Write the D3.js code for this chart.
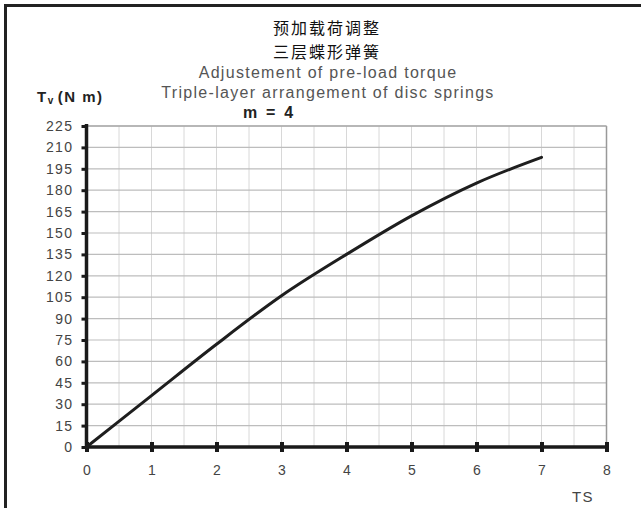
<!DOCTYPE html>
<html>
<head>
<meta charset="utf-8">
<script src="https://cdn.jsdelivr.net/npm/d3@7"></script>
<style>
  html, body { margin: 0; padding: 0; background: #fff; }
  svg { display: block; }
</style>
</head>
<body>
<svg id="chart" width="641" height="508"></svg>
<script>
// Pre-load torque Tv (Nm) versus TS, triple-layer disc spring stack, m = 4
const tsValues = [0, 1, 2, 3, 4, 5, 6, 7];
const torqueValues = [0, 36, 72, 106, 135, 162, 185, 203];
const xTicks = [0, 1, 2, 3, 4, 5, 6, 7, 8];
const yTicks = [0, 15, 30, 45, 60, 75, 90, 105, 120, 135, 150, 165, 180, 195, 210, 225];
const titleLinesZh = ["预加载荷调整", "三层蝶形弹簧"];
const titleLinesEn = ["Adjustement of pre-load torque", "Triple-layer arrangement of disc springs"];

const svg = d3.select("#chart");
const font = "Liberation Sans, Arial, sans-serif";

const x = d3.scaleLinear().domain([0, 8]).range([86.5, 606.5]);
const y = d3.scaleLinear().domain([0, 225]).range([447, 126]);

// outer frame
svg.append("path")
  .attr("d", "M5.5,508 V5.5 H641")
  .attr("fill", "none").attr("stroke", "#222").attr("stroke-width", 3);

// title block
titleLinesZh.forEach((t, i) => {
  svg.append("text").attr("x", 327).attr("y", 34 + i * 23.5)
    .attr("text-anchor", "middle").attr("font-family", "Noto Sans CJK SC, sans-serif")
    .attr("font-size", 16).attr("letter-spacing", 2).attr("fill", "#111").text(t);
});
titleLinesEn.forEach((t, i) => {
  svg.append("text").attr("x", 328).attr("y", 78 + i * 20)
    .attr("text-anchor", "middle").attr("font-family", font)
    .attr("font-size", 16).attr("fill", "#555").attr("letter-spacing", 1.3).text(t);
});
svg.append("text").attr("x", 268).attr("y", 118)
  .attr("text-anchor", "middle").attr("font-family", font)
  .attr("font-size", 16).attr("font-weight", "bold").attr("fill", "#222")
  .attr("xml:space", "preserve").text("m  =  4");

// y axis title Tv (Nm)
const yt = svg.append("text").attr("x", 37).attr("y", 102)
  .attr("font-family", font).attr("font-size", 15).attr("font-weight", "bold")
  .attr("fill", "#222").attr("letter-spacing", 1.5);
yt.append("tspan").text("T");
yt.append("tspan").attr("font-size", 10).attr("dy", 2).text("v");
yt.append("tspan").attr("dy", -2).attr("dx", 3).text("(N m)");

// grid
const g = svg.append("g");
g.selectAll("line.vx").data(d3.range(0.5, 8, 0.5))
  .join("line").attr("class", "vx")
  .attr("x1", d => x(d)).attr("x2", d => x(d))
  .attr("y1", y(225)).attr("y2", y(0))
  .attr("stroke", "#d8d8d8").attr("stroke-width", 1);
g.selectAll("line.hy").data(yTicks.filter(d => d > 0))
  .join("line").attr("class", "hy")
  .attr("x1", x(0)).attr("x2", x(8))
  .attr("y1", d => y(d)).attr("y2", d => y(d))
  .attr("stroke", "#bdbdbd").attr("stroke-width", 1.2);
// plot border, right and top
g.append("line").attr("x1", x(8)).attr("x2", x(8)).attr("y1", y(225)).attr("y2", y(0))
  .attr("stroke", "#999").attr("stroke-width", 1.5);
g.append("line").attr("x1", x(0)).attr("x2", x(8)).attr("y1", y(225)).attr("y2", y(225))
  .attr("stroke", "#aaa").attr("stroke-width", 1.5);

// y axis
const yAxis = d3.axisLeft(y).tickValues(yTicks).tickSize(5).tickPadding(8);
const ya = svg.append("g").attr("transform", `translate(${x(0)},0)`).call(yAxis);
ya.select(".domain").attr("stroke", "#1a1a1a").attr("stroke-width", 3.5)
  .attr("d", `M0,${y(0)}V${y(225) - 2}`);
ya.selectAll(".tick line").attr("stroke", "#1a1a1a").attr("stroke-width", 3);
ya.selectAll(".tick text").attr("font-family", font).attr("font-size", 14)
  .attr("fill", "#444").attr("letter-spacing", 1.4);

// x axis
const xAxis = d3.axisBottom(x).tickValues(xTicks).tickSize(6).tickPadding(12);
const xa = svg.append("g").attr("transform", `translate(0,${y(0)})`).call(xAxis);
xa.select(".domain").attr("stroke", "#1a1a1a").attr("stroke-width", 3.5)
  .attr("d", `M${x(0)},0H${x(8)}`);
xa.selectAll(".tick line").attr("stroke", "#1a1a1a").attr("stroke-width", 4)
  .attr("y1", -5).attr("y2", 5);
xa.selectAll(".tick text").attr("font-family", font).attr("font-size", 14)
  .attr("fill", "#444");

svg.append("text").attr("x", 583).attr("y", 502).attr("text-anchor", "middle")
  .attr("font-family", font).attr("font-size", 15).attr("fill", "#444")
  .attr("letter-spacing", 1.5).text("TS");

// torque curve
const line = d3.line()
  .x((d, i) => x(tsValues[i]))
  .y(d => y(d))
  .curve(d3.curveMonotoneX);
svg.append("path").datum(torqueValues)
  .attr("d", line)
  .attr("fill", "none").attr("stroke", "#1e1e1e").attr("stroke-width", 3)
  .attr("stroke-linecap", "round");
</script>
</body>
</html>
